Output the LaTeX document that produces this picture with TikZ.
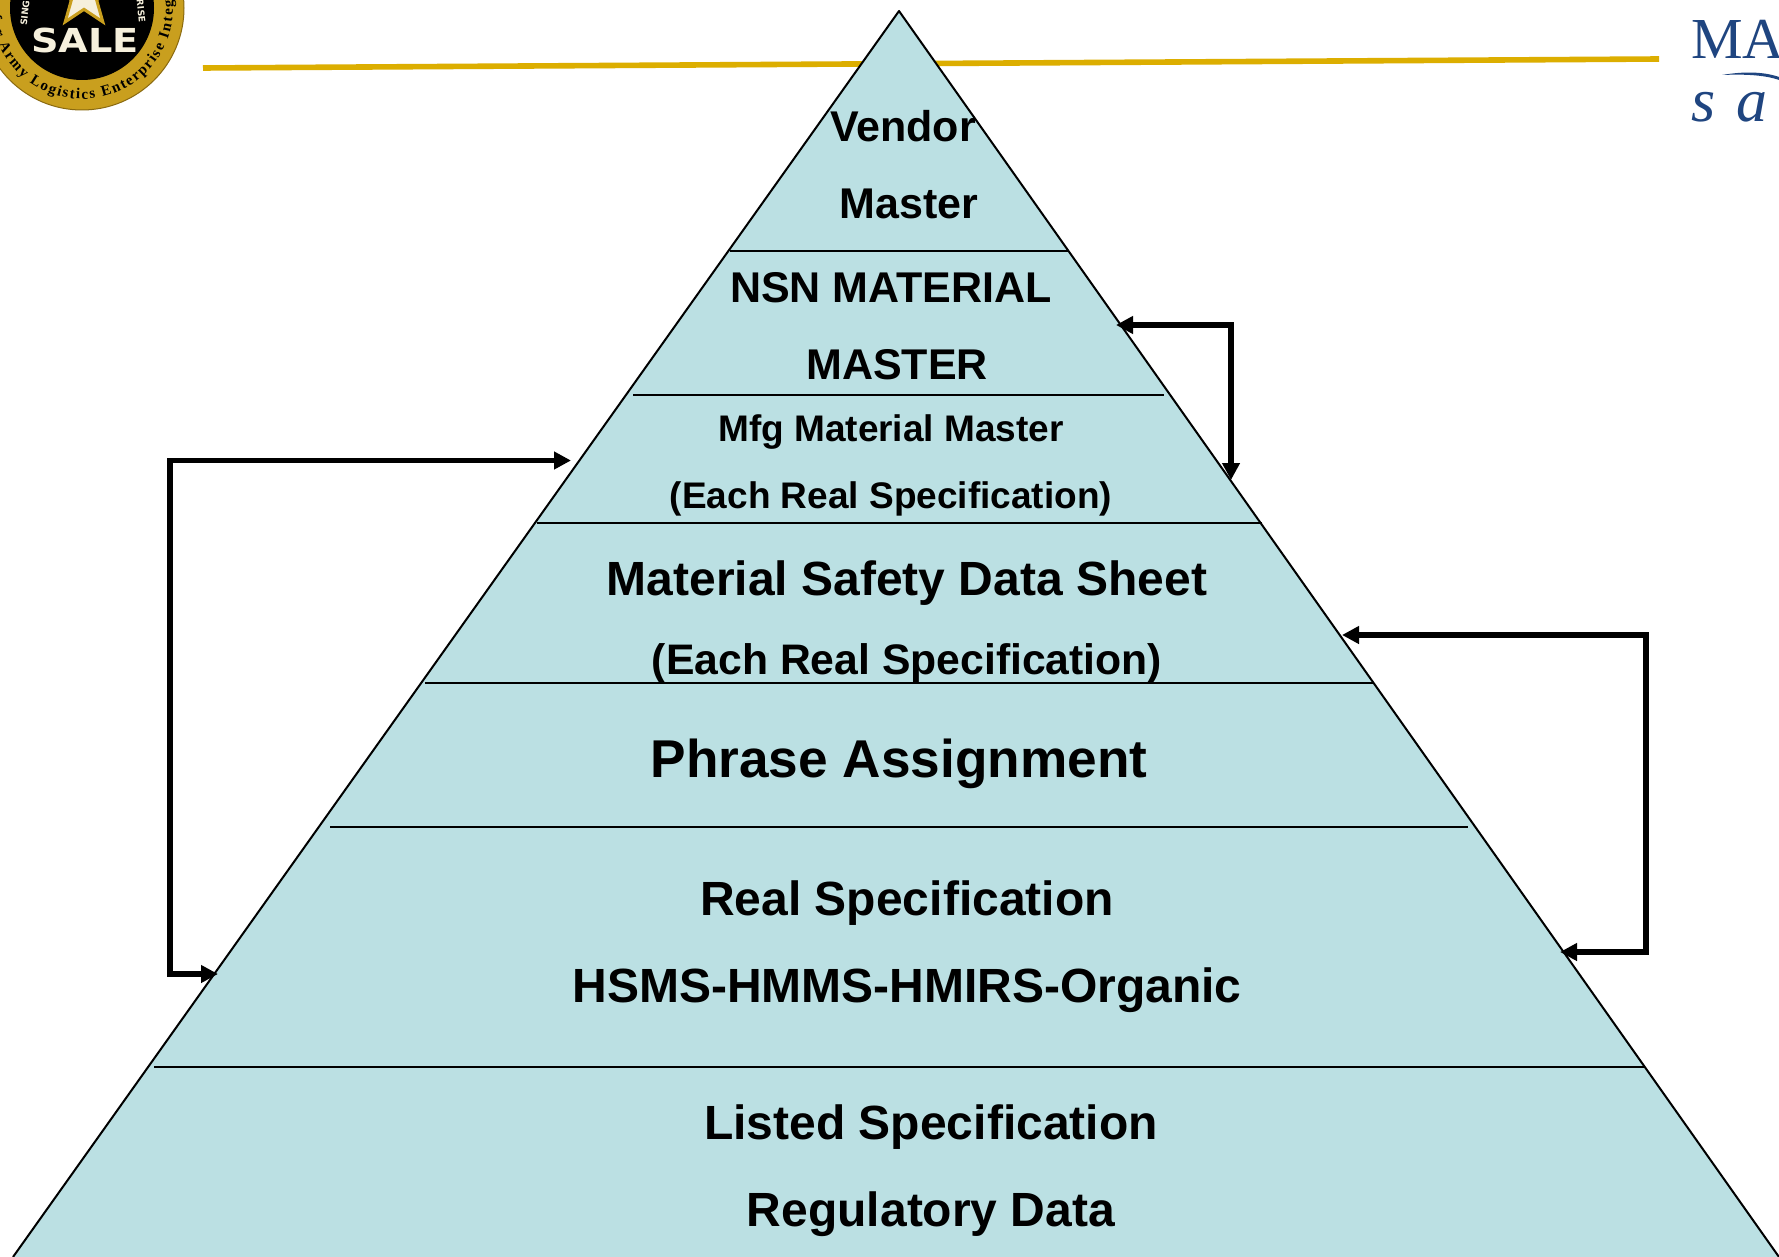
\documentclass[tikz,border=0pt]{standalone}
\usepackage{fontspec}
\setmainfont{Liberation Sans}
\newfontfamily\logoserif{Liberation Serif}
\newfontfamily\logosans{DejaVu Sans}
\usetikzlibrary{arrows.meta,decorations.text,shapes.geometric}
\definecolor{tierblue}{HTML}{BBE0E3}
\definecolor{rulegold}{HTML}{DCAE00}
\definecolor{sealgold}{HTML}{C99F1E}
\definecolor{sealedge}{HTML}{8A6A10}
\definecolor{sealwhite}{HTML}{F6F0DC}
\definecolor{marknavy}{HTML}{1F4580}
\newcommand{\labelfont}[1]{\fontsize{#1}{#1}\selectfont\bfseries}

\begin{document}
\begin{tikzpicture}[x=1pt,y=-1pt,>={Triangle[length=17pt,width=17pt]},
        tier line/.style={line width=1.5pt,line cap=butt},
        tier label/.style={anchor=base,inner sep=0pt,text=black},
        seal small/.style={inner sep=0pt,text=sealwhite,font=\logosans\fontsize{9}{9}\selectfont\bfseries},
        link/.style={<->,line width=5.6pt,line join=miter}]
        \path[use as bounding box,clip] (0,0) rectangle (1779,1257);
        \fill[white] (0,0) rectangle (1779,1257);
        \coordinate (apex) at (899,11);
        \coordinate (base left) at (13,1257);
        \coordinate (base right) at (1779,1257);
        \coordinate (rule left) at (203,68);
        \coordinate (rule right) at (1659,59);
        \draw[rulegold,line width=5.6pt] (rule left) -- (rule right);
        \draw[fill=tierblue,line width=2pt,line join=round] (base left) -- (apex) -- (base right);
        \draw[tier line] (730,251) -- (1068,251);
        \draw[tier line] (633,395) -- (1164,395);
        \draw[tier line] (537,523) -- (1262,523);
        \draw[tier line] (425,683) -- (1373,683);
        \draw[tier line] (330,827) -- (1468,827);
        \draw[tier line] (154,1067) -- (1644,1067);
        \node[tier label,font=\labelfont{43}] (vendor) at (903,142) {Vendor};
        \node[tier label,font=\labelfont{43}] (master) at (909,219) {Master};
        \node[tier label,font=\labelfont{43}] (nsn) at (891,302) {NSN MATERIAL};
        \node[tier label,font=\labelfont{43}] (nsn master) at (897,379) {MASTER};
        \node[tier label,font=\labelfont{37}] (mfg) at (891,441) {Mfg Material Master};
        \node[tier label,font=\labelfont{37}] (mfg spec) at (891,508) {(Each Real Specification)};
        \node[tier label,font=\labelfont{48}] (msds) at (907,595) {Material Safety Data Sheet};
        \node[tier label,font=\labelfont{42.7}] (msds spec) at (907,674) {(Each Real Specification)};
        \node[tier label,font=\labelfont{53.2}] (phrase) at (899,777) {Phrase Assignment};
        \node[tier label,font=\labelfont{48}] (real) at (907,915) {Real Specification};
        \node[tier label,font=\labelfont{48}] (hsms) at (907,1002) {HSMS-HMMS-HMIRS-Organic};
        \node[tier label,font=\labelfont{48}] (listed) at (931,1139) {Listed Specification};
        \node[tier label,font=\labelfont{48}] (regulatory) at (931,1226) {Regulatory Data};
        \coordinate (nsn port) at (1116,325);
        \coordinate (nsn bend) at (1231,325);
        \coordinate (mfg port) at (1231,480);
        \coordinate (mfg bend) at (170,460.5);
        \coordinate (mfg left) at (571,460.5);
        \coordinate (real bend) at (170,974);
        \coordinate (real left) at (218,974);
        \coordinate (msds port) at (1342,635);
        \coordinate (msds bend) at (1646,635);
        \coordinate (real bend right) at (1646,952);
        \coordinate (real right) at (1560,952);
        \draw[link] (nsn port) -- (nsn bend) -- (mfg port);
        \draw[link] (mfg left) -- (mfg bend) -- (real bend) -- (real left);
        \draw[link] (msds port) -- (msds bend) -- (real bend right) -- (real right);
        \begin{scope}[shift={(82,8)},y=1pt]
        \fill[sealgold,draw=sealedge,line width=1pt] (0,0) circle (102pt);
        \fill[black] (0,0) circle (72pt);
        \node[star,star points=5,star point ratio=2.4,minimum size=64pt,inner sep=0pt,
                fill=sealwhite,draw=sealgold,line width=3pt] (seal star) at (2,12) {};
        \node[anchor=base,inner sep=0pt,xscale=1.16,text=sealwhite,font=\logosans\fontsize{33}{33}\selectfont\bfseries] (sale) at (3,-45) {SALE};
        \node[seal small,rotate=84] (sing) at (-57,-5) {SING};
        \node[seal small,rotate=-84] (rise) at (59,-3) {RISE};
        \path[decorate,decoration={text along path,text align=fit to path,
                text={|\logoserif\fontsize{15}{15}\selectfont\bfseries|for Army Logistics Enterprise Integ}}]
                (185:91pt) arc[start angle=185,end angle=365,radius=91pt];
        \end{scope}
        \node[anchor=base west,inner sep=0pt,text=marknavy,font=\logoserif\fontsize{58}{58}\selectfont] (mark top) at (1691,59) {MA};
        \node[anchor=base west,inner sep=0pt,text=marknavy,font=\logoserif\fontsize{62}{62}\selectfont\itshape] (mark bottom) at (1691,122) {s\hspace{21pt}a};
        \fill[marknavy] (1722,75) .. controls (1745,71) and (1765,72) .. (1779,77) -- (1779,80) .. controls (1765,75) and (1745,74) .. (1722,75);
\end{tikzpicture}
\end{document}
